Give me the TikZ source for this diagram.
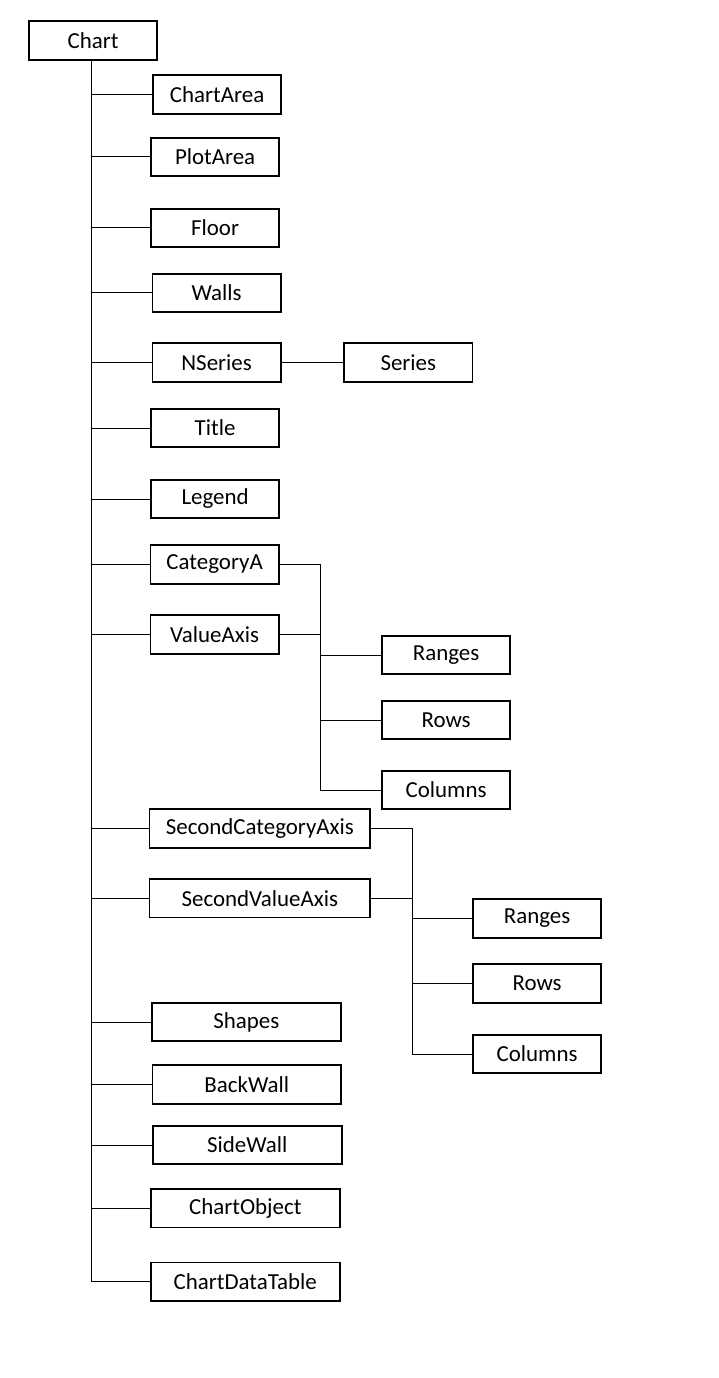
\documentclass[tikz,border=0pt]{standalone}
\usepackage{fontspec}
\setmainfont{Carlito}
\usepackage{tikz}
\usetikzlibrary{positioning}
\tikzset{
  objbox/.style={draw,line width=0.9pt,anchor=west,minimum width=61.6pt,minimum height=18.4pt,inner sep=0pt,font=\fontsize{11}{13}\selectfont},
  midbox/.style={objbox,minimum width=90.6pt},
  widebox/.style={objbox,minimum width=106pt},
  link/.style={line width=0.48pt}
}

\begin{document}
\begin{tikzpicture}[x=0.48pt,y=-0.48pt]
\useasboundingbox (0,0) rectangle (718,1378);
\node[objbox] (chart) at (28,40.5) {Chart};
\node[objbox] (chartarea) at (152,94.5) {ChartArea};
\node[objbox] (plotarea) at (150,157) {PlotArea};
\node[objbox] (floor) at (150,228) {Floor};
\node[objbox] (walls) at (151.5,293) {Walls};
\node[objbox] (nseries) at (151.5,362.5) {NSeries};
\node[objbox, right=29.5pt of nseries] (series) {Series};
\node[objbox] (title) at (150,428) {Title};
\node[objbox] (legend) at (150,499) {Legend};
\node[objbox] (categorya) at (149.5,564.5) {CategoryA};
\node[objbox] (valueaxis) at (149.5,634.5) {ValueAxis};
\node[objbox] (ranges1) at (381,655) {Ranges};
\node[objbox] (rows1) at (381,720) {Rows};
\node[objbox] (columns1) at (381,790) {Columns};
\node[widebox] (secondcategoryaxis) at (148.5,828.5) {SecondCategoryAxis};
\node[widebox] (secondvalueaxis) at (148.5,898.3) {SecondValueAxis};
\node[objbox] (ranges2) at (472,918.5) {Ranges};
\node[objbox] (rows2) at (472,983.5) {Rows};
\node[objbox] (columns2) at (472,1054) {Columns};
\node[midbox] (shapes) at (151,1022) {Shapes};
\node[midbox] (backwall) at (151.5,1084.5) {BackWall};
\node[midbox] (sidewall) at (152,1145) {SideWall};
\node[midbox] (chartobject) at (150,1208.3) {ChartObject};
\node[midbox] (chartdatatable) at (150,1281.7) {ChartDataTable};
% main trunk
\coordinate (trunk) at (91,0);
\draw[link] (trunk |- chart.south) |- (chartdatatable.west);
\foreach \n in {chartarea,plotarea,floor,walls,nseries,title,legend,categorya,valueaxis,
  secondcategoryaxis,secondvalueaxis,shapes,backwall,sidewall,chartobject}
  \draw[link] (trunk |- \n.west) -- (\n.west);
\draw[link] (nseries.east) -- (series.west);
% axis groups
\coordinate (axisjoin) at (320,564.5);
\draw[link] (categorya.east) -- (axisjoin) |- (columns1.west);
\draw[link] (valueaxis.east) -- (axisjoin |- valueaxis.east);
\foreach \n in {ranges1,rows1}
  \draw[link] (axisjoin |- \n.west) -- (\n.west);
\coordinate (secondjoin) at (412,828.5);
\draw[link] (secondcategoryaxis.east) -- (secondjoin) |- (columns2.west);
\draw[link] (secondvalueaxis.east) -- (secondjoin |- secondvalueaxis.east);
\foreach \n in {ranges2,rows2}
  \draw[link] (secondjoin |- \n.west) -- (\n.west);
\end{tikzpicture}
\end{document}
